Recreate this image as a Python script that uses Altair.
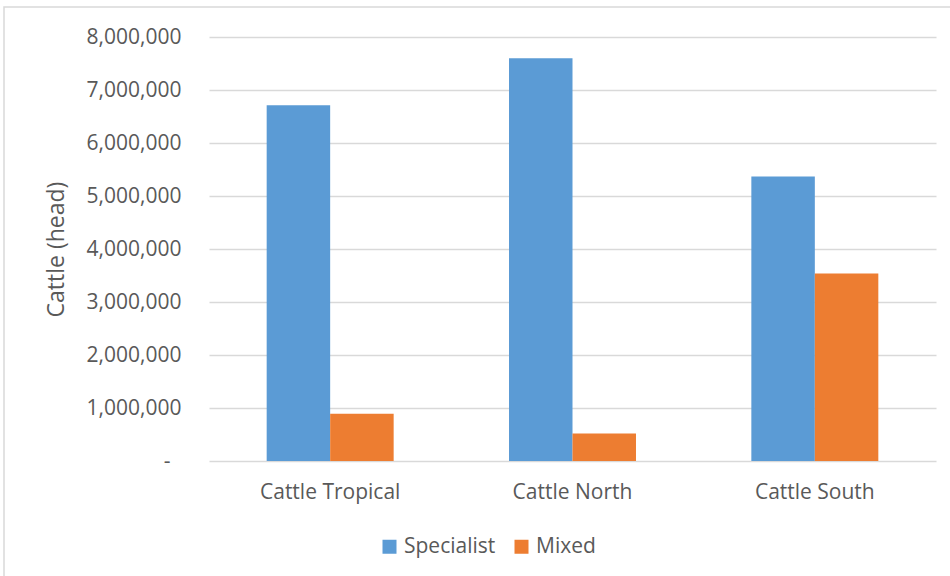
import altair as alt
import pandas as pd

# Cattle numbers by region and farm type
regions = ["Cattle Tropical", "Cattle North", "Cattle South"]
specialist = [6710000, 7600000, 5370000]
mixed = [890000, 520000, 3540000]
series = ["Specialist", "Mixed"]
colors = ["#5B9BD5", "#ED7D31"]
y_ticks = [0, 1000000, 2000000, 3000000, 4000000, 5000000, 6000000, 7000000, 8000000]

rows = []
for i, r in enumerate(regions):
    rows.append({"region": r, "type": "Specialist", "head": specialist[i]})
    rows.append({"region": r, "type": "Mixed", "head": mixed[i]})
df = pd.DataFrame(rows)

FONT = "Open Sans"
TEXT = "#595959"
GRID = "#D9D9D9"

bars = alt.Chart(df).mark_bar().encode(
    x=alt.X(
        "region:N",
        sort=regions,
        scale=alt.Scale(paddingInner=0.476, paddingOuter=0.238),
        axis=alt.Axis(
            title=None, labelAngle=0, domain=False, ticks=False,
            labelPadding=31, labelBaseline="middle",
            labelFontSize=21, labelColor=TEXT, labelFont=FONT,
        ),
    ),
    xOffset=alt.XOffset("type:N", sort=series, scale=alt.Scale(paddingInner=0)),
    y=alt.Y(
        "head:Q",
        scale=alt.Scale(domain=[0, 8000000], nice=False),
        axis=alt.Axis(
            title="Cattle (head)", values=y_ticks,
            labelExpr="datum.value == 0 ? '-\u00a0\u00a0\u200b' : format(datum.value, ',')",
            domain=False, ticks=False, labelPadding=28,
            labelFontSize=21, labelColor=TEXT, labelFont=FONT,
            grid=True, gridColor=GRID, gridWidth=1.5,
            titleFontSize=23, titleColor=TEXT, titleFont=FONT, titleFontWeight="normal",
            titleX=-153, titleY=212, titleBaseline="middle", titleAngle=-90,
        ),
    ),
    color=alt.Color(
        "type:N",
        sort=series,
        scale=alt.Scale(domain=series, range=colors),
        legend=alt.Legend(
            title=None, orient="none", direction="horizontal",
            legendX=170, legendY=499, padding=0,
            symbolType="square", symbolSize=196, symbolStrokeWidth=0,
            labelFontSize=21, labelColor=TEXT, labelFont=FONT,
            columnPadding=15, labelOffset=4,
        ),
    ),
)

# light frame around the whole chart
frame = alt.Chart(pd.DataFrame({"k": [0]})).mark_rect(
    fill=None, stroke=GRID, strokeWidth=1.5, clip=False
).encode(
    x=alt.value(-205), x2=alt.value(760), y=alt.value(-30), y2=alt.value(560)
)

chart = alt.layer(frame, bars).properties(
    width=727, height=424,
    background="white",
    autosize=alt.AutoSizeParams(type="none"),
    padding={"left": 209, "top": 37, "right": 14, "bottom": 115},
).configure_view(stroke=None)

chart.save("out.html", embed_options={"renderer": "svg", "actions": False})
